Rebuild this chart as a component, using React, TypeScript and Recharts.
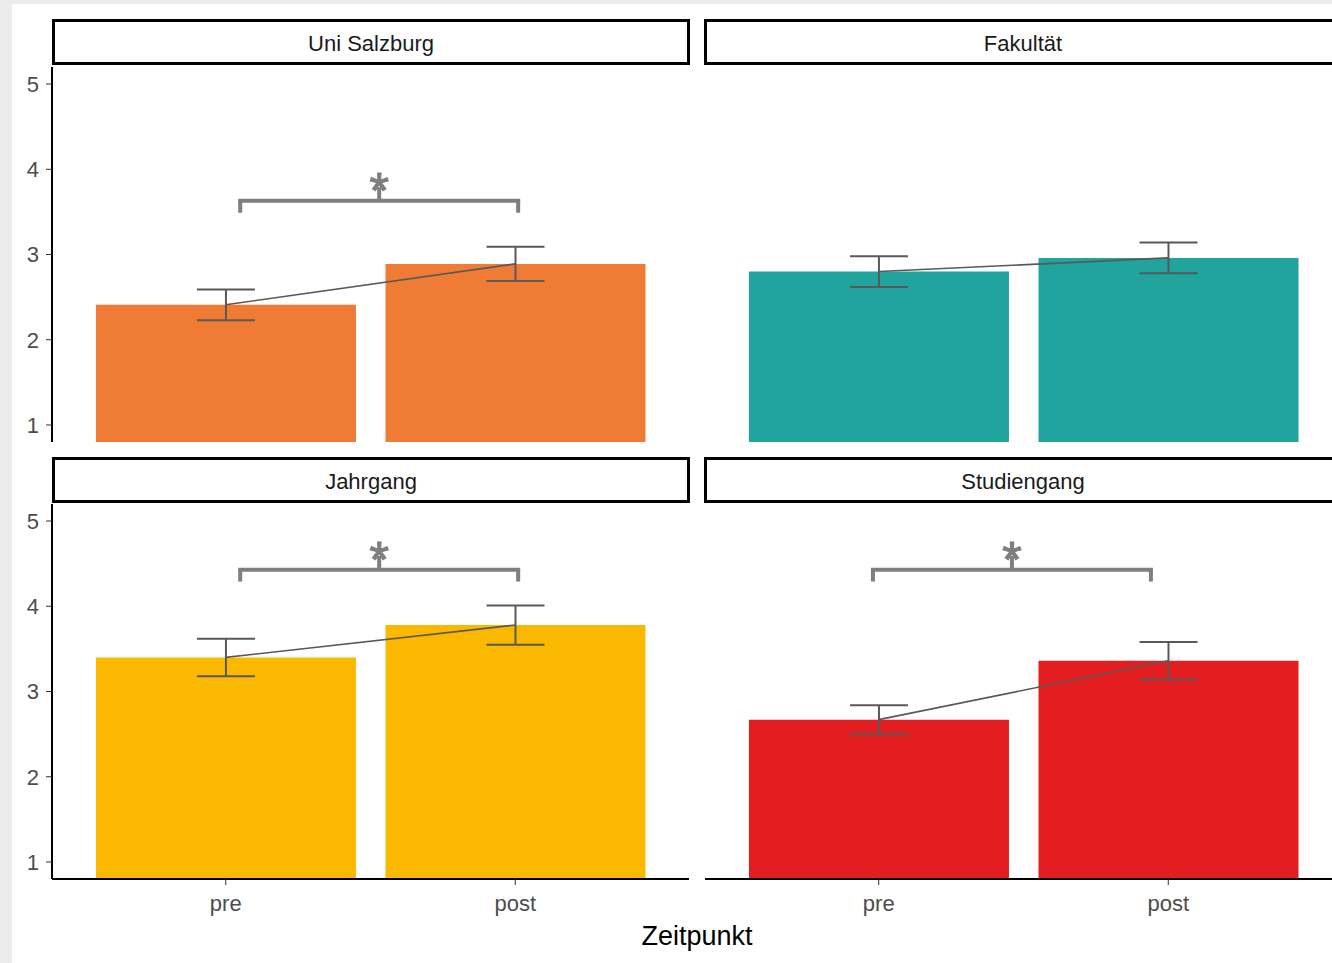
import React from "react";
import {
  ComposedChart,
  Bar,
  Line,
  XAxis,
  YAxis,
  ErrorBar,
  ReferenceLine,
  ReferenceDot,
} from "recharts";

const timepoints = ["pre", "post"];
const yTicks = [1, 2, 3, 4, 5];

const titles = ["Uni Salzburg", "Fakultät", "Jahrgang", "Studiengang"];
const colors = ["#EF7B35", "#21A39E", "#FAB800", "#E41D20"];

// mean and standard error per timepoint
const meanUni = [2.41, 2.89];
const seUni = [0.18, 0.2];
const meanFak = [2.8, 2.96];
const seFak = [0.18, 0.18];
const meanJahr = [3.4, 3.78];
const seJahr = [0.22, 0.23];
const meanStud = [2.67, 3.36];
const seStud = [0.17, 0.22];

// significance brackets: [x from, x to, height]
const sigUni = [1.05, 2.01, 3.63];
const sigJahr = [1.05, 2.01, 4.43];
const sigStud = [0.98, 1.94, 4.43];

const FONT = '"Liberation Sans", Arial, sans-serif';
const PLOT_W = 637;
const PLOT_H = 375;

interface PanelProps {
  color: string;
  means: number[];
  ses: number[];
  sig?: number[];
  left: number;
  top: number;
  showY: boolean;
  showX: boolean;
}

function Strip({ title, left, top }: { title: string; left: number; top: number }) {
  return (
    <div
      style={{
        position: "absolute",
        left,
        top,
        width: 638,
        height: 46,
        boxSizing: "border-box",
        border: "3px solid #000",
        background: "#fff",
        paddingTop: 4,
        display: "flex",
        alignItems: "center",
        justifyContent: "center",
        fontFamily: FONT,
        fontSize: 22,
        color: "#1a1a1a",
      }}
    >
      {title}
    </div>
  );
}

function Panel({ color, means, ses, sig, left, top, showY, showX }: PanelProps) {
  const data = timepoints.map((t, i) => ({ x: i + 1, t, mean: means[i], se: ses[i] }));
  const marginLeft = showY ? 0 : 5;
  const yWidth = showY ? 52 : 0;
  const xHeight = showX ? 50 : 0;
  const width = marginLeft + yWidth + PLOT_W + 11;
  const height = 7 + PLOT_H + xHeight + 5;
  const grey = "#7f7f7f";

  return (
    <div style={{ position: "absolute", left, top }}>
      <ComposedChart
        width={width}
        height={height}
        data={data}
        margin={{ top: 7, right: 11, bottom: 5, left: marginLeft }}
      >
        <XAxis
          type="number"
          dataKey="x"
          domain={[0.4, 2.6]}
          ticks={[1, 2]}
          allowDataOverflow
          hide={!showX}
          height={xHeight}
          tickFormatter={(v: number) => timepoints[v - 1]}
          axisLine={{ stroke: "#000", strokeWidth: 2 }}
          tickLine={{ stroke: "#333" }}
          tickSize={6}
          tickMargin={10}
          tick={{ fill: "#4d4d4d", fontSize: 22, fontFamily: FONT }}
        />
        <YAxis
          type="number"
          domain={[0.8, 5.2]}
          ticks={yTicks}
          allowDataOverflow
          hide={!showY}
          width={yWidth}
          axisLine={{ stroke: "#000", strokeWidth: 2 }}
          tickLine={{ stroke: "#333" }}
          tickSize={6}
          tickMargin={7}
          tick={{ fill: "#4d4d4d", fontSize: 22, fontFamily: FONT }}
        />
        <Bar dataKey="mean" fill={color} barSize={260} isAnimationActive={false}>
          <ErrorBar dataKey="se" width={29} stroke="#595959" strokeWidth={2} />
        </Bar>
        <Line
          dataKey="mean"
          stroke="#595959"
          strokeWidth={1.6}
          dot={false}
          activeDot={false}
          isAnimationActive={false}
        />
        {sig && (
          <>
            <ReferenceLine
              segment={[{ x: sig[0], y: sig[2] }, { x: sig[1], y: sig[2] }]}
              stroke={grey}
              strokeWidth={4}
              strokeLinecap="square"
            />
            <ReferenceLine
              segment={[{ x: sig[0], y: sig[2] }, { x: sig[0], y: sig[2] - 0.14 }]}
              stroke={grey}
              strokeWidth={4}
            />
            <ReferenceLine
              segment={[{ x: sig[1], y: sig[2] }, { x: sig[1], y: sig[2] - 0.14 }]}
              stroke={grey}
              strokeWidth={4}
            />
            <ReferenceLine
              segment={[
                { x: (sig[0] + sig[1]) / 2, y: sig[2] },
                { x: (sig[0] + sig[1]) / 2, y: sig[2] + 0.16 },
              ]}
              stroke={grey}
              strokeWidth={4}
            />
            <ReferenceDot
              x={(sig[0] + sig[1]) / 2}
              y={sig[2]}
              r={0}
              shape={(p: any) => (
                <text
                  x={p.cx}
                  y={p.cy + 7}
                  textAnchor="middle"
                  fontSize={50}
                  fontFamily={FONT}
                  fill={grey}
                  stroke={grey}
                  strokeWidth={1.2}
                >
                  *
                </text>
              )}
            />
          </>
        )}
      </ComposedChart>
    </div>
  );
}

export default function App() {
  return (
    <div
      style={{
        position: "absolute",
        left: 0,
        top: 0,
        width: 1332,
        height: 963,
        overflow: "hidden",
        background: "#ececec",
      }}
    >
      <div
        style={{
          position: "absolute",
          left: 12,
          top: 4,
          width: 1320,
          height: 959,
          background: "#fff",
        }}
      />
      <Panel color={colors[0]} means={meanUni} ses={seUni} sig={sigUni} left={0} top={60} showY showX={false} />
      <Panel color={colors[1]} means={meanFak} ses={seFak} left={700} top={60} showY={false} showX={false} />
      <Panel color={colors[2]} means={meanJahr} ses={seJahr} sig={sigJahr} left={0} top={497} showY showX />
      <Panel color={colors[3]} means={meanStud} ses={seStud} sig={sigStud} left={700} top={497} showY={false} showX />
      <Strip title={titles[0]} left={52} top={19} />
      <Strip title={titles[1]} left={704} top={19} />
      <Strip title={titles[2]} left={52} top={457} />
      <Strip title={titles[3]} left={704} top={457} />
      <div
        style={{
          position: "absolute",
          left: 52,
          width: 1290,
          top: 921,
          textAlign: "center",
          fontFamily: FONT,
          fontSize: 27,
          color: "#000",
        }}
      >
        Zeitpunkt
      </div>
    </div>
  );
}
